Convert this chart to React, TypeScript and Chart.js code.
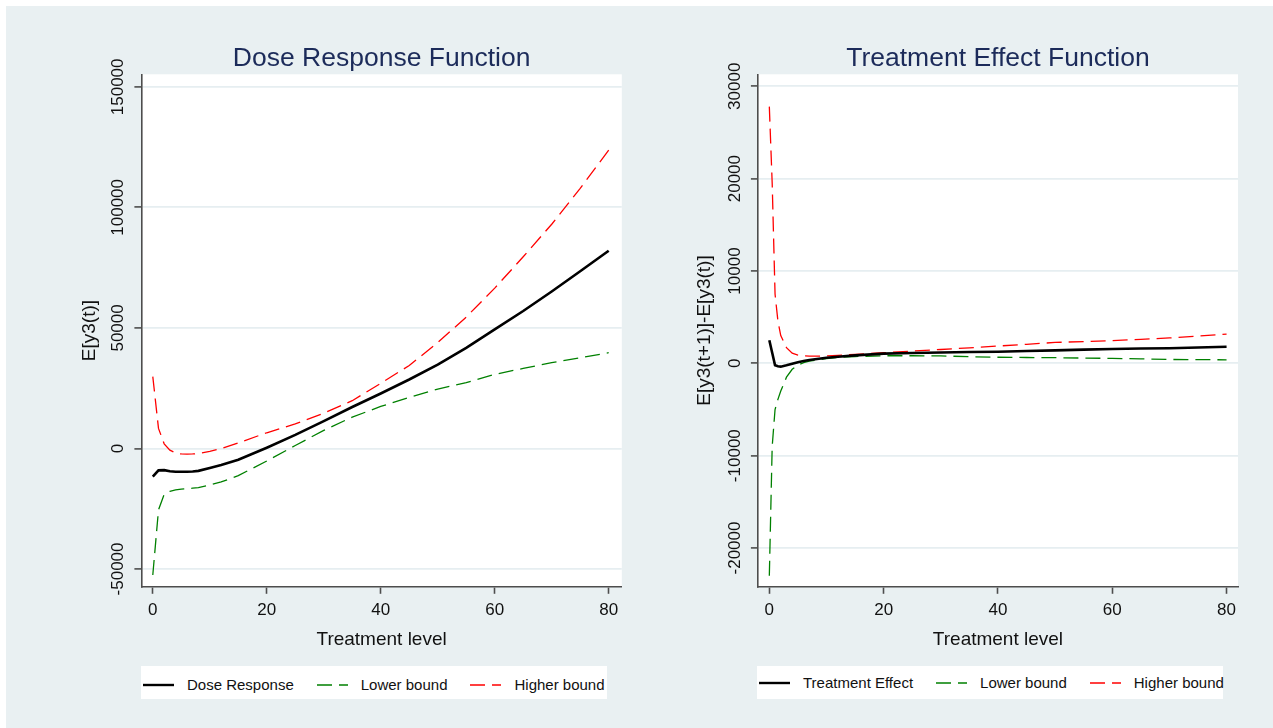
import React, { useEffect, useRef } from 'react';
import { Chart, registerables } from 'chart.js';

Chart.register(...registerables);

const FONT = '"Liberation Sans", Arial, Helvetica, sans-serif';
const PAGE_BG = '#e9f0f2';
const GRID = '#e6eef1';
const AXIS = '#4d4d4d';
const TEXT = '#111111';
const TITLE = '#1c2b5a';
const DASH = [15, 7];

// ---- Dose Response Function ----
const doseLevels = [0, 1, 2, 3, 4, 5, 6, 7, 8, 10, 12, 15, 20, 25, 30, 35, 40, 45, 50, 55, 60, 65, 70, 75, 80];
const doseResponse = [-11700, -9100, -9000, -9500, -9700, -9700, -9700, -9600, -9300, -8100, -6900, -4700, 300, 5600, 11300, 17200, 22800, 28600, 34800, 41700, 49400, 57000, 65100, 73500, 82000];
const doseLower = [-52500, -25500, -19000, -17800, -17200, -16900, -16700, -16500, -16300, -15200, -13900, -11300, -5200, 1200, 7500, 13000, 17400, 21200, 24600, 27300, 30700, 33200, 35600, 37600, 39700];
const doseHigher = [29800, 8300, 1900, -700, -1900, -2300, -2400, -2300, -2100, -1200, -100, 2300, 6500, 10200, 14600, 19800, 27000, 34400, 43900, 54500, 66500, 79500, 93000, 107900, 123700];
const doseYTicks = [-50000, 0, 50000, 100000, 150000];

// ---- Treatment Effect Function ----
const effectLevels = [0, 0.5, 1, 1.5, 2, 3, 4, 5, 6, 7, 8, 10, 12, 15, 20, 25, 30, 35, 40, 45, 50, 55, 60, 65, 70, 75, 80];
const treatmentEffect = [2500, 1150, -200, -320, -360, -220, -50, 120, 250, 360, 450, 600, 720, 860, 1050, 1120, 1180, 1220, 1260, 1330, 1400, 1480, 1560, 1600, 1640, 1720, 1800];
const effectLower = [-23000, -9000, -5000, -3900, -3000, -1500, -650, -200, 70, 250, 330, 520, 640, 740, 820, 820, 800, 720, 660, 630, 610, 570, 540, 480, 420, 400, 380];
const effectHigher = [27800, 19500, 7500, 4600, 3000, 1700, 1100, 900, 820, 790, 780, 800, 870, 980, 1150, 1330, 1500, 1680, 1870, 2060, 2260, 2360, 2450, 2600, 2750, 2950, 3170];
const effectYTicks = [-20000, -10000, 0, 10000, 20000, 30000];

const xTicks = [0, 20, 40, 60, 80];

const toPoints = (xs: number[], ys: number[]) => xs.map((x, i) => ({ x, y: ys[i] }));

type SeriesStyle = { label: string; color: string; width: number; dash: number[] };

type PanelSpec = {
  title: string;
  yTitle: string;
  levels: number[];
  series: { style: SeriesStyle; values: number[] }[];
  yTicks: number[];
  yMin: number;
  yMax: number;
  xMax: number;
  left: number;
  width: number;
  yScaleWidth: number;
  yTitlePad: number;
  yLabelOffset: number;
  padRight: number;
};

const plotBackground = {
  id: 'plotBackground',
  beforeDraw(chart: any) {
    const { ctx, chartArea } = chart;
    ctx.save();
    ctx.fillStyle = '#ffffff';
    ctx.fillRect(chartArea.left, chartArea.top, chartArea.right - chartArea.left, chartArea.bottom - chartArea.top);
    ctx.restore();
  },
};

// vertical (rotated) tick labels on the y axis
const rotatedYTicks = {
  id: 'rotatedYTicks',
  afterDraw(chart: any, _args: any, opts: any) {
    const s = chart.scales.y;
    const ctx = chart.ctx;
    ctx.save();
    ctx.font = `17px ${FONT}`;
    ctx.fillStyle = TEXT;
    ctx.textAlign = 'center';
    ctx.textBaseline = 'middle';
    for (const t of s.ticks) {
      const py = s.getPixelForValue(t.value);
      ctx.save();
      ctx.translate(s.right - opts.offset, py);
      ctx.rotate(-Math.PI / 2);
      ctx.fillText(String(t.value), 0, 0);
      ctx.restore();
    }
    ctx.restore();
  },
};

const CANVAS_TOP = 6;
const CANVAS_HEIGHT = 645;

function Panel({ spec }: { spec: PanelSpec }) {
  const ref = useRef<HTMLCanvasElement>(null);
  useEffect(() => {
    const chart = new Chart(ref.current as HTMLCanvasElement, {
      type: 'line',
      data: {
        datasets: spec.series.map((s) => ({
          label: s.style.label,
          data: toPoints(spec.levels, s.values),
          borderColor: s.style.color,
          borderWidth: s.style.width,
          borderDash: s.style.dash,
          pointRadius: 0,
          fill: false,
          tension: 0,
        })),
      },
      options: {
        responsive: false,
        animation: false,
        events: [],
        layout: { padding: { left: 0, right: spec.padRight, top: 0, bottom: 0 } },
        plugins: {
          legend: { display: false },
          tooltip: { enabled: false },
          title: {
            display: true,
            text: spec.title,
            fullSize: false,
            color: TITLE,
            font: { family: FONT, size: 26.5, weight: 'normal' },
            padding: { top: 36.5, bottom: 0 },
          },
          rotatedYTicks: { offset: spec.yLabelOffset },
        } as any,
        scales: {
          x: {
            type: 'linear',
            min: -2,
            max: spec.xMax,
            afterBuildTicks: (s: any) => {
              s.ticks = xTicks.map((v) => ({ value: v }));
            },
            grid: { drawOnChartArea: false, drawTicks: true, tickLength: 7, tickColor: AXIS, tickWidth: 1.6 },
            border: { display: true, color: AXIS, width: 1.6 },
            ticks: { font: { family: FONT, size: 17 }, color: TEXT, padding: 6, maxRotation: 0, autoSkip: false },
            title: {
              display: true,
              text: 'Treatment level',
              color: TEXT,
              font: { family: FONT, size: 19 },
              padding: { top: 2, bottom: 0 },
            },
          },
          y: {
            type: 'linear',
            min: spec.yMin,
            max: spec.yMax,
            afterBuildTicks: (s: any) => {
              s.ticks = spec.yTicks.map((v) => ({ value: v }));
            },
            afterFit: (s: any) => {
              s.width = spec.yScaleWidth;
            },
            grid: { color: GRID, lineWidth: 1.8, drawTicks: true, tickLength: 7, tickColor: AXIS, tickWidth: 1.6 },
            border: { display: true, color: AXIS, width: 1.6 },
            ticks: { display: false },
            title: {
              display: true,
              text: spec.yTitle,
              color: TEXT,
              font: { family: FONT, size: 19 },
              padding: { top: spec.yTitlePad, bottom: 0 },
            },
          },
        },
      } as any,
      plugins: [plotBackground, rotatedYTicks],
    });
    return () => chart.destroy();
  }, [spec]);
  return (
    <canvas
      ref={ref}
      width={spec.width}
      height={CANVAS_HEIGHT}
      style={{ position: 'absolute', left: spec.left, top: CANVAS_TOP, width: spec.width, height: CANVAS_HEIGHT }}
    />
  );
}

const mainStyle = (label: string): SeriesStyle => ({ label, color: '#000000', width: 2.6, dash: [] });
const lowerStyle: SeriesStyle = { label: 'Lower bound', color: '#008000', width: 1.3, dash: DASH };
const higherStyle: SeriesStyle = { label: 'Higher bound', color: '#ff0000', width: 1.3, dash: DASH };

const doseSpec: PanelSpec = {
  title: 'Dose Response Function',
  yTitle: 'E[y3(t)]',
  levels: doseLevels,
  series: [
    { style: mainStyle('Dose Response'), values: doseResponse },
    { style: lowerStyle, values: doseLower },
    { style: higherStyle, values: doseHigher },
  ],
  yTicks: doseYTicks,
  yMin: -57400,
  yMax: 155200,
  xMax: 82.3,
  left: 6,
  width: 630,
  yScaleWidth: 135.4,
  yTitlePad: 72.5,
  yLabelOffset: 23,
  padRight: 14.2,
};

const effectSpec: PanelSpec = {
  title: 'Treatment Effect Function',
  yTitle: 'E[y3(t+1)]-E[y3(t)]',
  levels: effectLevels,
  series: [
    { style: mainStyle('Treatment Effect'), values: treatmentEffect },
    { style: lowerStyle, values: effectLower },
    { style: higherStyle, values: effectHigher },
  ],
  yTicks: effectYTicks,
  yMin: -24200,
  yMax: 31300,
  xMax: 82,
  left: 640,
  width: 633,
  yScaleWidth: 117.9,
  yTitlePad: 53,
  yLabelOffset: 22.2,
  padRight: 35,
};

function LegendBox({ left, lineY, styles }: { left: number; lineY: number; styles: SeriesStyle[] }) {
  const top = 666;
  return (
    <div style={{ position: 'absolute', left, top, width: 466, height: 33, background: '#ffffff' }}>
      <div
        style={{
          position: 'absolute',
          left: 2,
          top: lineY - top - 10,
          height: 20,
          display: 'flex',
          alignItems: 'center',
          whiteSpace: 'nowrap',
        }}
      >
        {styles.map((s, i) => (
          <React.Fragment key={s.label}>
            <svg width={31} height={6} style={{ display: 'block', marginRight: 13 }}>
              <line
                x1={0}
                y1={3}
                x2={31}
                y2={3}
                stroke={s.color}
                strokeWidth={s.dash.length ? 1.3 : 2.4}
                strokeDasharray={s.dash.length ? s.dash.join(' ') : undefined}
              />
            </svg>
            <span
              style={{
                fontFamily: FONT,
                fontSize: 15,
                lineHeight: '20px',
                color: TEXT,
                marginRight: i < styles.length - 1 ? 23 : 0,
              }}
            >
              {s.label}
            </span>
          </React.Fragment>
        ))}
      </div>
    </div>
  );
}

export default function App() {
  return (
    <div style={{ position: 'absolute', left: 0, top: 0, width: 1273, height: 728, background: '#ffffff', overflow: 'hidden' }}>
      <div style={{ position: 'absolute', left: 6, top: 6, width: 1267, height: 722, background: PAGE_BG }} />
      <Panel spec={doseSpec} />
      <Panel spec={effectSpec} />
      <LegendBox left={141} lineY={685} styles={doseSpec.series.map((s) => s.style)} />
      <LegendBox left={757} lineY={683} styles={effectSpec.series.map((s) => s.style)} />
    </div>
  );
}
